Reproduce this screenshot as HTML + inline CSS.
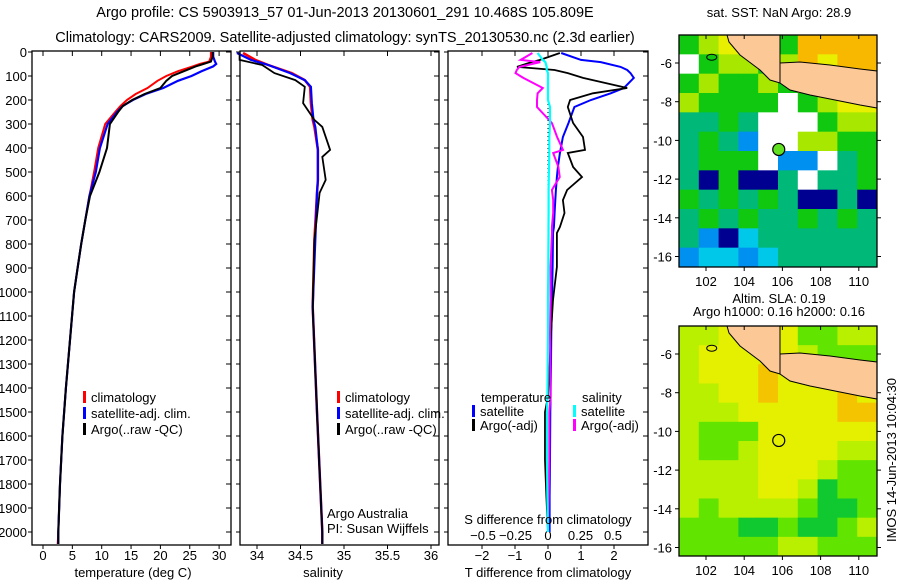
<!DOCTYPE html>
<html><head><meta charset="utf-8"><style>
body{margin:0;background:#fff}
svg{display:block;font-family:"Liberation Sans",sans-serif;font-size:13px}
</style></head><body>
<svg id="s" width="900" height="580" viewBox="0 0 900 580" xmlns="http://www.w3.org/2000/svg">
<text x="345" y="17" text-anchor="middle" font-size="14.5">Argo profile: CS 5903913_57 01-Jun-2013 20130601_291 10.468S 105.809E</text>
<text x="345" y="42" text-anchor="middle" font-size="14.5">Climatology: CARS2009. Satellite-adjusted climatology: synTS_20130530.nc (2.3d earlier)</text>
<text x="779" y="17" text-anchor="middle">sat. SST: NaN Argo: 28.9</text>
<text x="779" y="303" text-anchor="middle">Altim. SLA: 0.19</text>
<text x="779" y="316" text-anchor="middle">Argo h1000: 0.16 h2000: 0.16</text>
<text transform="translate(896,460) rotate(-90)" text-anchor="middle">IMOS 14-Jun-2013 10:04:30</text>
<g id="g"></g>
</svg>
<script>
// ---------- data ----------
const depthT=[0,20,40,50,60,80,100,120,150,175,200,225,250,300,400,500,600,700,800,900,1000,1200,1400,1600,1800,2000,2050];
const tempClim=[28.6,28.6,28.3,26.7,25.5,23,21,19.5,17.8,15.8,14.3,13.2,12.3,10.6,9.4,8.7,7.9,7.2,6.5,5.9,5.3,4.6,3.9,3.3,2.9,2.6,2.5];
const tempSat=[29.0,29.0,29.3,29.5,29.0,27,25.3,23,20.5,17.5,15.3,13.6,12.6,11,9.7,9.0,7.9,7.2,6.5,5.9,5.3,4.6,3.9,3.3,2.9,2.6,2.6];
const tempArgo=[28.9,28.9,28.6,27.3,26,24,22,21,20,17.3,15.2,13.6,12.8,11.4,10.9,9.6,8.0,7.2,6.5,5.9,5.3,4.6,3.9,3.3,2.9,2.6,2.6];
const depthS=[4,33,54,88,117,145,213,283,312,408,437,533,587,783,1062,1500,2000,2050];
const salClim=[33.84,33.98,34.13,34.40,34.55,34.61,34.62,34.64,34.66,34.70,34.70,34.70,34.69,34.66,34.64,34.69,34.75,34.75];
const salSat=[33.77,33.93,34.13,34.38,34.55,34.62,34.63,34.65,34.67,34.70,34.70,34.70,34.69,34.67,34.64,34.69,34.75,34.75];
const salArgo=[33.80,33.80,34.06,34.20,34.44,34.55,34.53,34.66,34.75,34.84,34.75,34.79,34.72,34.66,34.64,34.69,34.75,34.75];
const depthD=[4,33,42,62,75,88,108,150,172,200,229,296,354,408,421,479,521,575,617,671,729,754,896,1033,1171,1437,1500,1700,1854,2000];
const tDiffSat=[0.4,1.0,1.6,2.2,2.4,2.5,2.6,2.3,1.9,1.3,0.8,0.62,0.45,0.38,0.36,0.3,0.27,0.24,0.22,0.2,0.18,0.15,0.14,0.12,0.1,0.08,0.07,0.06,0.05,0.05];
const tDiffArgo=[0.36,-0.24,-0.5,-0.94,0.2,0.6,1.06,2.4,1.36,0.67,0.6,0.76,1.06,1.12,0.6,0.76,1.03,0.58,0.45,0.5,0.36,0.27,0.27,0.15,0.09,0.0,-0.09,-0.09,-0.05,0.0];
const sDiffSat=[-0.08,-0.04,-0.02,-0.01,-0.01,0,0,0,0,0,0.015,0.015,0.01,0.01,0.01,0.008,0.006,0.005,0.005,0.005,0.004,0.004,0.002,0,0,-0.005,-0.008,-0.008,-0.005,0];
const sDiffArgo=[-0.12,-0.21,-0.06,-0.22,-0.24,-0.25,-0.19,-0.04,-0.08,-0.085,-0.085,0.03,0.07,0.115,0.04,0.08,0.09,0.03,0.04,0.04,0.03,0.03,0.02,0.02,0.015,0.02,0.01,0.01,0.005,0];
const depthTicks=[0,100,200,300,400,500,600,700,800,900,1000,1100,1200,1300,1400,1500,1600,1700,1800,1900,2000];
const tempTicks=[0,5,10,15,20,25,30];
const salTicks=[34,34.5,35,35.5,36];
const tdTicks=[-2,-1,0,1,2];
const sdTicks=[-0.5,-0.25,0,0.25,0.5];
const sdTickLabels=["−0.5","−0.25","0","0.25","0.5"];
const lonTicks=[102,104,106,108,110];
const latTicks=[-6,-8,-10,-12,-14,-16];
const sstRows=["gyYYggoooo","wgyygyoYoo","gyggygYYYY","yggggwgyYY","ttgtwwwgyy","tgtbwwyygg","tgggwbbwtg","tngnntwttg","gtgtgtnntn","tgtgttgtgt","tbnctttttt","bccbcttttt"];
const slaRows=["yyYYYYggyy","yYYYYYyggg","yYYYoYYyyg","yyYYoYYYoY","yyyYYYYYoo","ygggYYYYYY","yggyYYYYyy","yyyyYYYygg","yyyyYYyGgg","ygyyyygGGg","gggGGgGGgy","gggggyyggg"];
const argoLon=105.809, argoLat=-10.468;
// ---------- helpers ----------
const NS="http://www.w3.org/2000/svg", G=document.getElementById('g');
function mk(tag,at,parent){const e=document.createElementNS(NS,tag);for(const k in at)e.setAttribute(k,at[k]);(parent||G).appendChild(e);return e;}
const yD=d=>52+d*0.24;
const xT=t=>43+t*5.87;
const xS=s=>257+(s-34)*87;
const xTD=t=>548+t*33;
const xSD=s=>548+s*130;
const PT=545, P0=51;
function frame(x0,x1,name){
  let r=mk('rect',{x:x0,y:P0,width:x1-x0,height:PT-P0,fill:'#fff',stroke:'#000','stroke-width':1.3});
  
  
  depthTicks.forEach(d=>{mk('line',{x1:x1,x2:x1-5,y1:yD(d),y2:yD(d),stroke:'#000'});mk('line',{x1:x0,x2:x0-4,y1:yD(d),y2:yD(d),stroke:'#000'});});
}
function xticks(x0,ticks,fx,labels,y){
  ticks.forEach((t,i)=>{mk('line',{x1:fx(t),x2:fx(t),y1:P0,y2:P0+5,stroke:'#000'});mk('line',{x1:fx(t),x2:fx(t),y1:PT,y2:PT+4,stroke:'#000'});
    const tx=mk('text',{x:fx(t),y:y,'text-anchor':'middle'});tx.textContent=labels[i];
    
    });
}
function line(xs,ds,fx,col,w,name){
  const pts=xs.map((v,i)=>fx(v).toFixed(1)+','+yD(ds[i]).toFixed(1)).join(' ');
  const p=mk('polyline',{points:pts,fill:'none',stroke:col,'stroke-width':w,'stroke-linejoin':'miter'});
  
  
}
function txt(x,y,s,name,anchor){const t=mk('text',{x:x,y:y,'text-anchor':anchor||'start'});t.textContent=s;
  
  return t;}
function legend(x,y,col,s){mk('rect',{x:x,y:y-11,width:3,height:12,fill:col});txt(x+8,y,s,'legend-entry');}
// ---------- panel 1 temperature ----------
frame(32,231,'temperature-panel');
depthTicks.forEach(d=>txt(27,yD(d)+5,String(d),'y-tick-label','end'));
xticks(32,tempTicks,xT,tempTicks.map(String),560);
line(tempClim,depthT,xT,'#f00',2,'temp-climatology-line');
line(tempSat,depthT,xT,'#00f',2.2,'temp-satellite-line');
line(tempArgo,depthT,xT,'#000',2,'temp-argo-line');
legend(83,402,'#f00','climatology');legend(83,418,'#00f','satellite-adj. clim.');legend(83,434,'#000','Argo(..raw -QC)');
txt(133,577,'temperature (deg C)','x-axis-title','middle');
// ---------- panel 2 salinity ----------
frame(240,439,'salinity-panel');
xticks(240,salTicks,xS,salTicks.map(String),560);
line(salClim,depthS,xS,'#f00',2.5,'sal-climatology-line');
line(salSat,depthS,xS,'#00f',2.2,'sal-satellite-line');
line(salArgo,depthS,xS,'#000',1.8,'sal-argo-line');
legend(337,402,'#f00','climatology');legend(337,418,'#00f','satellite-adj. clim.');legend(337,434,'#000','Argo(..raw -QC)');
txt(327,518,'Argo Australia','credit');txt(327,533,'PI: Susan Wijffels','credit');
txt(323,577,'salinity','x-axis-title','middle');
// ---------- panel 3 differences ----------
frame(448,648,'difference-panel');
tdTicks.forEach(t=>{mk('line',{x1:xTD(t),x2:xTD(t),y1:P0,y2:P0+5,stroke:'#000'});mk('line',{x1:xTD(t),x2:xTD(t),y1:PT,y2:PT+4,stroke:'#000'});txt(xTD(t),560,String(t).replace('-','−'),'t-tick-label','middle');});
sdTicks.forEach((t,i)=>txt(xSD(t),540,sdTickLabels[i],'s-tick-label','middle'));
mk('line',{x1:xTD(0),x2:xTD(0),y1:yD(150),y2:yD(600),stroke:'#000','stroke-dasharray':'1,3'});
line(tDiffSat,depthD,xTD,'#00f',2,'t-diff-satellite-line');
line(tDiffArgo,depthD,xTD,'#000',1.8,'t-diff-argo-line');
line(sDiffArgo,depthD,xSD,'#f0f',2,'s-diff-argo-line');
line(sDiffSat,depthD,xSD,'#0ff',2.2,'s-diff-satellite-line');
txt(481,402,'temperature','legend-heading');txt(582,402,'salinity','legend-heading');
legend(472,416,'#00f','satellite');legend(472,430,'#000','Argo(-adj)');
legend(573,416,'#0ff','satellite');legend(573,430,'#f0f','Argo(-adj)');
txt(548,524,'S difference from climatology','s-axis-title','middle');
txt(548,577,'T difference from climatology','t-axis-title','middle');
// ---------- maps ----------
const sstCol={g:'#10c810',y:'#a8e800',Y:'#e8f000',o:'#f8b800',t:'#00b878',c:'#00c8e8',b:'#0090f0',n:'#000090',w:'#ffffff'};
const slaCol={g:'#60e400',G:'#10c830',y:'#b8f000',Y:'#e4f000',o:'#f4c400'};
const mx=lon=>706+(lon-102)*19.1;
function map(top,bottom,rows,cols,name,lat6,fillMarker){
  const yLat=lat=>lat6+(-6-lat)*19.35;
  const g=mk('g',{});
  
  
  const nr=rows.length,nc=rows[0].length,cw=(877-679)/nc,ch=(bottom-top)/nr;
  rows.forEach((r,i)=>{for(let j=0;j<nc;j++)mk('rect',{x:679+j*cw,y:top+i*ch,width:cw+0.5,height:ch+0.5,fill:cols[r[j]]},g);});
  const o=top;
  mk('polygon',{points:`727,${o} 780,${o} 780,${o+48} 770,${o+45} 760,${o+35} 740,${o+20} 729,${o+7}`,fill:'#fbc896',stroke:'#000','stroke-width':1},g);
  mk('polygon',{points:`780,${o+28} 800,${o+27} 830,${o+30} 860,${o+34} 877,${o+36} 877,${o+73} 860,${o+70} 830,${o+64} 810,${o+60} 790,${o+55} 780,${o+48}`,fill:'#fbc896',stroke:'#000','stroke-width':1},g);
  mk('ellipse',{cx:mx(102.3),cy:yLat(-5.7),rx:5,ry:3,fill:'none',stroke:'#000'},g);
  mk('circle',{cx:mx(argoLon),cy:yLat(argoLat),r:6,fill:fillMarker,stroke:'#000','stroke-width':1.2},g);
  mk('rect',{x:679,y:top,width:198,height:bottom-top,fill:'none',stroke:'#000','stroke-width':1.3},g);
  lonTicks.forEach(l=>{mk('line',{x1:mx(l),x2:mx(l),y1:top,y2:top+4,stroke:'#000'},g);mk('line',{x1:mx(l),x2:mx(l),y1:bottom,y2:bottom+4,stroke:'#000'},g);txt(mx(l),bottom+19,String(l),'lon-tick-label','middle');});
  latTicks.forEach(l=>{mk('line',{x1:877,x2:881,y1:yLat(l),y2:yLat(l),stroke:'#000'},g);mk('line',{x1:679,x2:675,y1:yLat(l),y2:yLat(l),stroke:'#000'},g);txt(672,yLat(l)+5,String(l),'lat-tick-label','end');});
}
map(35,267,sstRows,sstCol,'sst-map',63,'#60e020');
map(326,556,slaRows,slaCol,'sla-map',354,'none');
</script>
</body></html>
